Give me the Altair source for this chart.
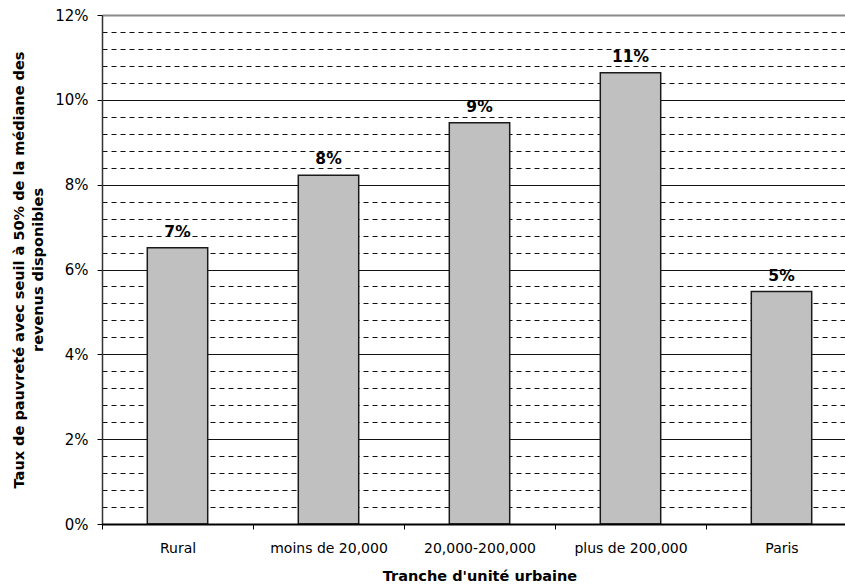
import altair as alt
import pandas as pd

# Poverty rate (50% of median disposable income) by urban unit size
categories = ["Rural", "moins de 20,000", "20,000-200,000", "plus de 200,000", "Paris"]
rates = [0.0651, 0.0822, 0.0946, 0.1064, 0.0548]

df = pd.DataFrame({"tranche": categories, "taux": rates})

FONT = "DejaVu Sans"

# Gridlines every 0.4 point; solid and labelled every 2 points
y_ticks = [round(i * 0.004, 3) for i in range(31)]
major = "abs(datum.value * 50 - round(datum.value * 50)) < 0.001"
top = "datum.value > 0.1199"

x = alt.X(
    "tranche:N",
    sort=categories,
    title="Tranche d'unité urbaine",
    scale=alt.Scale(range=[0, 755], paddingInner=0, paddingOuter=0),
    axis=alt.Axis(
        labelAngle=0,
        tickBand="extent",
        tickSize=5,
        tickColor="#000000",
        domainColor="#000000",
        domainWidth=2,
        labelFont=FONT,
        labelFontSize=14,
        labelColor="#000000",
        labelPadding=12,
        titleFont=FONT,
        titleFontSize=14.5,
        titleFontWeight="bold",
        titleColor="#000000",
        titlePadding=14,
        grid=False,
        zindex=1,
    ),
)

y = alt.Y(
    "taux:Q",
    title=["Taux de pauvreté avec seuil à 50% de la médiane des", "revenus disponibles"],
    scale=alt.Scale(domain=[0, 0.12], nice=False, zero=True),
    axis=alt.Axis(
        values=y_ticks,
        labelExpr=f"{major} ? format(datum.value, '.0%') : ''",
        labelFont=FONT,
        labelFontSize=15,
        labelColor="#000000",
        labelPadding=9,
        tickSize=5,
        tickColor="#000000",
        tickOpacity={"condition": {"test": major, "value": 1}, "value": 0},
        domainColor="#333333",
        domainWidth=1.5,
        grid=True,
        gridColor={"condition": {"test": top, "value": "#8a8a8a"}, "value": "#111111"},
        gridWidth={"condition": {"test": top, "value": 2}, "value": 1},
        gridDash={"condition": {"test": major, "value": []}, "value": [5, 4]},
        gridOpacity=1,
        titleFont=FONT,
        titleFontSize=14.5,
        titleFontWeight="bold",
        titleColor="#000000",
        titleLineHeight=19,
        titlePadding=9,
    ),
)

bars = alt.Chart(df).mark_bar(
    width=alt.RelativeBandSize(0.4),
    color="#C0C0C0",
    stroke="#1a1a1a",
    strokeWidth=1.5,
).encode(x=x, y=y)

labels = alt.Chart(df).mark_text(
    font=FONT,
    fontSize=15.5,
    fontWeight="bold",
    baseline="alphabetic",
    dy=-11,
    color="#000000",
).encode(
    x=x,
    y=y,
    text=alt.Text("taux:Q", format=".0%"),
)

chart = (
    alt.layer(bars, labels)
    .properties(
        width=743,
        height=509,
        autosize="none",
        padding={"left": 102, "top": 15, "right": 0, "bottom": 63},
        background="white",
    )
    .configure_view(stroke=None)
)

chart.save("out.html", embed_options={"renderer": "svg", "actions": False})
